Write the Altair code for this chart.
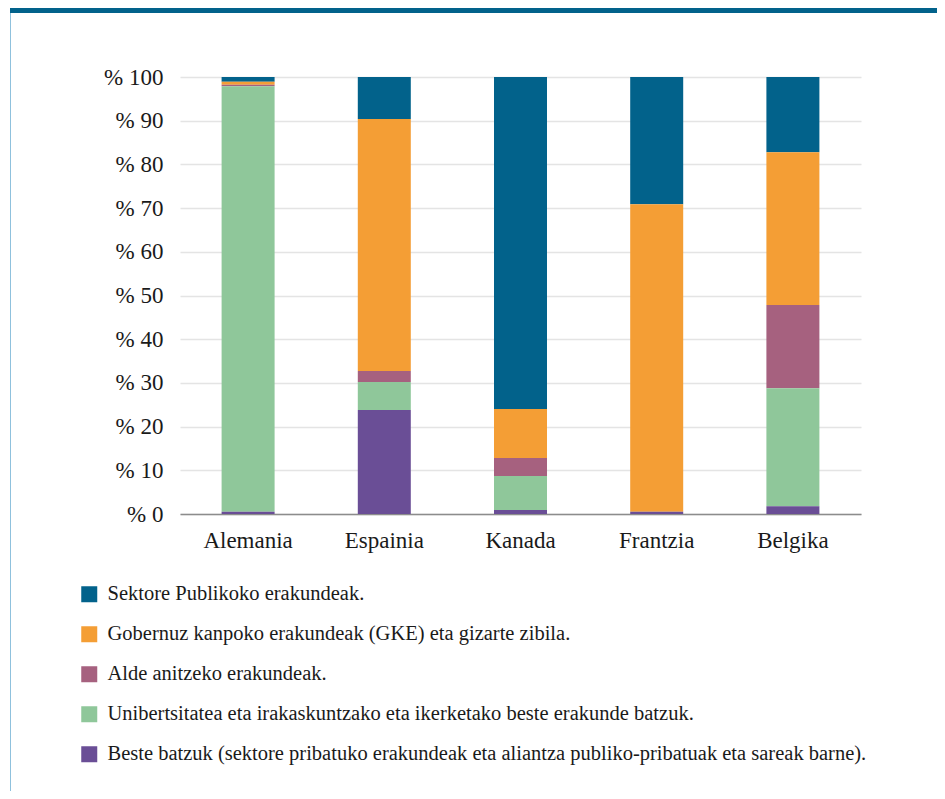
import altair as alt
import pandas as pd

countries = ["Alemania", "Espainia", "Kanada", "Frantzia", "Belgika"]

series = [
    "Sektore Publikoko erakundeak.",
    "Gobernuz kanpoko erakundeak (GKE) eta gizarte zibila.",
    "Alde anitzeko erakundeak.",
    "Unibertsitatea eta irakaskuntzako eta ikerketako beste erakunde batzuk.",
    "Beste batzuk (sektore pribatuko erakundeak eta aliantza publiko-pribatuak eta sareak barne).",
]
colors = ["#02628B", "#F49E35", "#A6617F", "#8FC79A", "#6A4E96"]

publikoa = [1.1, 9.6, 76.0, 29.1, 17.2]
gke = [0.7, 57.7, 11.2, 70.4, 35.0]
alde = [0.3, 2.5, 4.1, 0.0, 19.0]
unibertsitatea = [97.4, 6.4, 7.8, 0.0, 27.0]
beste = [0.5, 23.8, 0.9, 0.5, 1.8]

y_ticks = [0, 10, 20, 30, 40, 50, 60, 70, 80, 90, 100]

all_vals = [publikoa, gke, alde, unibertsitatea, beste]
rows = []
for si, (name, vals) in enumerate(zip(series, all_vals)):
    for c, v in zip(countries, vals):
        rows.append({"herrialdea": c, "saila": name, "balioa": v, "stack": 4 - si})
df = pd.DataFrame(rows)

FONT = "Liberation Serif"

bars = alt.Chart(df).mark_bar(size=53).encode(
    x=alt.X("herrialdea:N", sort=countries,
            scale=alt.Scale(paddingInner=0, paddingOuter=0),
            axis=alt.Axis(title=None, labelAngle=0, labelFontSize=23, labelFont=FONT,
                          labelColor="#1a1a1a", ticks=False, domainColor="#8c8c8c",
                          domainWidth=1.5, labelPadding=15, grid=False)),
    y=alt.Y("balioa:Q", stack="zero",
            scale=alt.Scale(domain=[0, 100], nice=False),
            axis=alt.Axis(title=None, values=y_ticks, labelExpr="'% ' + datum.value",
                          labelFontSize=23, labelFont=FONT, labelColor="#1a1a1a",
                          ticks=False, domain=False, labelPadding=17,
                          gridColor="#e4e4e4", gridWidth=1.5)),
    color=alt.Color("saila:N",
                    scale=alt.Scale(domain=series, range=colors),
                    legend=alt.Legend(title=None, orient="none", legendX=-101, legendY=507,
                                      direction="vertical", symbolType="square",
                                      symbolSize=256, symbolStrokeWidth=0,
                                      labelFont=FONT, labelFontSize=20.5,
                                      labelColor="#1a1a1a", labelLimit=1000,
                                      labelOffset=8, rowPadding=19, padding=0)),
    order=alt.Order("stack:Q", sort="ascending"),
)

header = alt.Chart(alt.Data(values=[{}])).mark_rect(color="#02628B").encode(
    x=alt.value(-170), x2=alt.value(770), y=alt.value(-69), y2=alt.value(-64)
)
border = alt.Chart(alt.Data(values=[{}])).mark_rect(color="#8fc1dd").encode(
    x=alt.value(-170), x2=alt.value(-169), y=alt.value(-64), y2=alt.value(720)
)

chart = alt.layer(header, border, bars).properties(
    width=681, height=437,
    autosize="none",
    padding={"left": 172, "top": 69, "right": 76, "bottom": 277},
    background="white",
).configure_view(stroke=None)

chart.save("out.html", embed_options={"renderer": "svg", "actions": False})
